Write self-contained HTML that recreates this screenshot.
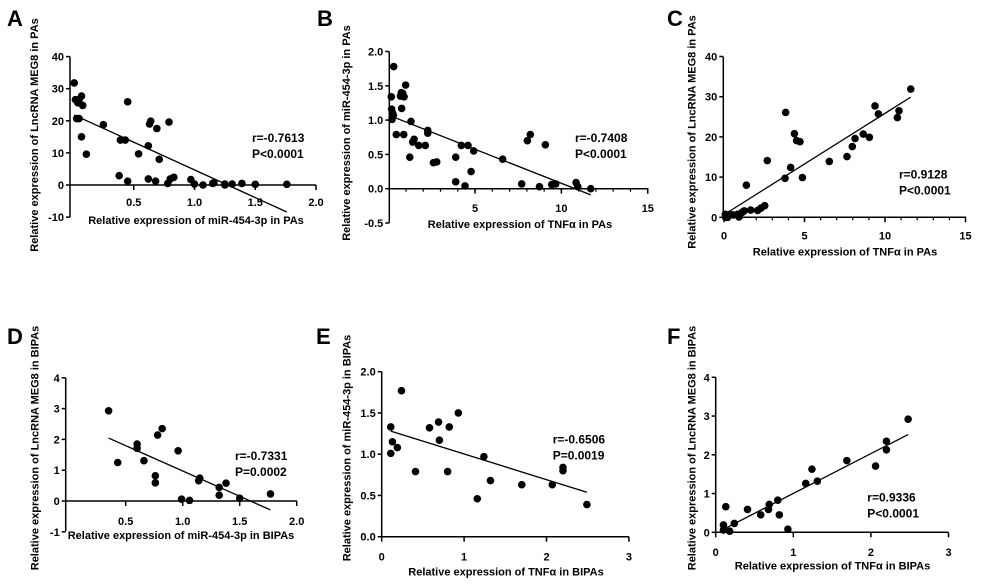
<!DOCTYPE html>
<html><head><meta charset="utf-8">
<style>
html,body{margin:0;padding:0;background:#fff;}
svg{display:block;font-family:"Liberation Sans",Arial,sans-serif;font-weight:bold;}
</style></head>
<body>
<svg id="fig" width="981" height="587" viewBox="0 0 981 587"></svg>
<script>
// Panel A: miR-454-3p (x) vs LncRNA MEG8 (y) in PAs
const aX=[0.01,0.02,0.05,0.07,0.04,0.08,0.03,0.05,0.07,0.11,0.25,0.39,0.43,0.45,0.38,0.45,0.54,0.62,0.63,0.64,0.69,0.71,0.79,0.62,0.68,0.78,0.8,0.83,0.97,1.0,1.07,1.15,1.16,1.25,1.25,1.31,1.39,1.5,1.76];
const aY=[31.8,26.6,26.6,27.7,25.6,24.8,20.7,20.7,15,9.6,18.8,14,14,25.9,2.9,1.2,9.7,12.2,19,19.9,17.6,8,19.6,1.9,1.2,0.5,1.9,2.4,1.7,0.3,0,0.5,0.7,0.3,0,0.3,0.5,0.2,0.2];
// Panel B: TNFa (x) vs miR-454-3p (y) in PAs
const bX=[0.29,0.15,0.17,0.23,0.19,0.27,0.44,0.68,0.73,0.81,0.89,0.75,0.98,0.87,1.29,1.22,1.39,1.47,1.74,2.12,2.26,2.26,2.59,2.78,3.88,3.88,4.21,4.42,4.59,4.77,4.92,6.6,7.7,8.03,8.2,8.73,9.07,9.44,9.67,10.85,10.95,11.7];
const bY=[1.78,1.34,1.16,1.10,1.01,1.07,0.79,1.35,1.40,1.39,1.34,1.17,1.51,0.79,0.98,0.46,0.68,0.72,0.63,0.63,0.85,0.81,0.38,0.39,0.46,0.1,0.63,0.04,0.63,0.25,0.55,0.43,0.07,0.7,0.79,0.03,0.64,0.06,0.07,0.09,0.03,0.0];
// Panel C: TNFa (x) vs LncRNA MEG8 (y) in PAs
const cX=[11.6,9.38,9.59,10.87,10.77,8.65,9.03,8.14,7.97,7.64,6.54,3.83,4.37,4.51,4.72,4.14,3.79,4.87,2.69,1.39,2.53,2.3,2.09,1.66,1.26,1.12,0.85,0.93,0.58,0.37,0.12,0.1,0.23,0.08];
const cY=[31.9,27.7,25.7,26.5,24.8,20.7,19.9,19.6,17.6,15.1,13.9,26.1,20.8,19.1,18.8,12.4,9.7,9.9,14.1,8,2.9,2.3,1.7,1.8,1.6,1.2,0.75,0.1,0.6,0.75,0.33,0,0,0.75];
// Panel D: miR-454-3p (x) vs LncRNA MEG8 (y) in BIPAs
const dX=[0.35,0.43,0.6,0.6,0.66,0.76,0.76,0.78,0.82,0.96,0.99,1.06,1.14,1.15,1.32,1.32,1.38,1.5,1.77];
const dY=[2.93,1.25,1.85,1.71,1.31,0.82,0.59,2.14,2.35,1.63,0.06,0.02,0.66,0.74,0.44,0.19,0.58,0.09,0.23];
// Panel E: TNFa (x) vs miR-454-3p (y) in BIPAs
const eX=[0.24,0.11,0.13,0.19,0.11,0.41,0.58,0.69,0.70,0.82,0.93,0.8,1.16,1.24,1.32,1.7,2.07,2.2,2.2,2.49];
const eY=[1.77,1.33,1.15,1.08,1.01,0.79,1.32,1.39,1.17,1.33,1.5,0.79,0.46,0.97,0.68,0.63,0.63,0.84,0.8,0.39];
// Panel F: TNFa (x) vs LncRNA MEG8 (y) in BIPAs
const fX=[2.48,2.2,2.2,2.06,1.69,1.24,1.31,1.16,0.8,0.69,0.68,0.58,0.82,0.93,0.41,0.24,0.13,0.1,0.1,0.18];
const fY=[2.92,2.35,2.13,1.71,1.85,1.63,1.32,1.26,0.83,0.72,0.59,0.45,0.45,0.08,0.59,0.23,0.66,0.19,0.06,0.03];
// tick labels
const aXTicks=["0.5","1.0","1.5","2.0"];
const aYTicks=["-10","0","10","20","30","40"];
const bXTicks=["5","10","15"];
const bYTicks=["-0.5","0.0","0.5","1.0","1.5","2.0"];
const cXTicks=["0","5","10","15"];
const cYTicks=["0","10","20","30","40"];
const dXTicks=["0.5","1.0","1.5","2.0"];
const dYTicks=["-1","0","1","2","3","4"];
const eXTicks=["0","1","2","3"];
const eYTicks=["0.0","0.5","1.0","1.5","2.0"];
const fXTicks=["0","1","2","3"];
const fYTicks=["0","1","2","3","4"];
const statsR=["r=-0.7613","r=-0.7408","r=0.9128","r=-0.7331","r=-0.6506","r=0.9336"];
const statsP=["P<0.0001","P<0.0001","P<0.0001","P=0.0002","P=0.0019","P<0.0001"];

const NS="http://www.w3.org/2000/svg";
const svg=document.getElementById('fig');
function mk(tag,attrs,parent,txt){const e=document.createElementNS(NS,tag);for(const k in attrs)e.setAttribute(k,attrs[k]);if(txt!==undefined)e.textContent=txt;(parent||svg).appendChild(e);return e;}

const panels=[
 {id:'a',letter:'A',lx:7,ly:26,xs:aX,ys:aY,xt:aXTicks,yt:aYTicks,ax:70,x0:73,xk:121.5,xEnd:316,y0:185,yk:3.21,yTop:56.7,yBot:217,xMinor:null,xlabY:202,title:'Relative expression of miR-454-3p in PAs',tx:196,ty:224,ytitle:'Relative expression of LncRNA MEG8 in PAs',ytx:38,yty:135,sx:252,sy:142},
 {id:'b',letter:'B',lx:317,ly:26,xs:bX,ys:bY,xt:bXTicks,yt:bYTicks,ax:389.3,x0:388.7,xk:17.27,xEnd:648.3,y0:188.7,yk:68.6,yTop:51.7,yBot:222.7,xMinor:1,xlabY:208,title:'Relative expression of TNFα in PAs',tx:520,ty:228,ytitle:'Relative expression of miR-454-3p in PAs',ytx:350,yty:133,sx:575,sy:142},
 {id:'c',letter:'C',lx:667,ly:26,xs:cX,ys:cY,xt:cXTicks,yt:cYTicks,ax:723.3,x0:724,xk:16.1,xEnd:966,y0:217.3,yk:4.02,yTop:56.7,yBot:217.3,xMinor:1,xlabY:235.5,title:'Relative expression of TNFα in PAs',tx:845,ty:255.5,ytitle:'Relative expression of LncRNA MEG8 in PAs',ytx:695.5,yty:132,sx:899,sy:178.5},
 {id:'d',letter:'D',lx:7,ly:344,xs:dX,ys:dY,xt:dXTicks,yt:dYTicks,ax:65.7,x0:68.7,xk:114,xEnd:297,y0:501,yk:30.8,yTop:377.7,yBot:531,xMinor:null,xlabY:521,title:'Relative expression of miR-454-3p in BIPAs',tx:181,ty:539,ytitle:'Relative expression of LncRNA MEG8 in BIPAs',ytx:38.5,yty:448,sx:235,sy:460},
 {id:'e',letter:'E',lx:316,ly:344,xs:eX,ys:eY,xt:eXTicks,yt:eYTicks,ax:381.7,x0:381.7,xk:82.4,xEnd:629,y0:536.7,yk:82.5,yTop:371.7,yBot:536.7,xMinor:null,xlabY:556.5,title:'Relative expression of TNFα in BIPAs',tx:506,ty:575.5,ytitle:'Relative expression of miR-454-3p in BIPAs',ytx:350.5,yty:448,sx:552.7,sy:443.3},
 {id:'f',letter:'F',lx:667,ly:344,xs:fX,ys:fY,xt:fXTicks,yt:fYTicks,ax:715.7,x0:715.7,xk:77.6,xEnd:948.3,y0:532.3,yk:38.75,yTop:377.3,yBot:532.3,xMinor:null,xlabY:552,title:'Relative expression of TNFα in BIPAs',tx:832.5,ty:569.5,ytitle:'Relative expression of LncRNA MEG8 in BIPAs',ytx:695.5,yty:448,sx:867.3,sy:501.3}
];

panels.forEach((p,i)=>{
  const g=mk('g',{});
  
  
  const X=v=>p.x0+v*p.xk, Y=v=>p.y0-v*p.yk;
  const L=mk('text',{x:p.lx,y:p.ly,'font-size':22,fill:'#000'},g,p.letter);
  
  
  // axes
  const ya=mk('line',{x1:p.ax,y1:p.yTop,x2:p.ax,y2:p.yBot,stroke:'#000','stroke-width':1.5},g);
  
  
  const xa=mk('line',{x1:p.ax,y1:p.y0,x2:p.xEnd,y2:p.y0,stroke:'#000','stroke-width':1.5},g);
  
  
  // y ticks
  p.yt.forEach(t=>{const v=parseFloat(t),yy=Y(v);
    mk('line',{x1:p.ax-4,y1:yy,x2:p.ax,y2:yy,stroke:'#000','stroke-width':1.5},g);
    const tl=mk('text',{x:p.ax-6,y:yy+4,'font-size':11,'text-anchor':'end'},g,t);
    
    
  });
  // x minor ticks
  const lastX=parseFloat(p.xt[p.xt.length-1]);
  if(p.xMinor){for(let v=p.xMinor;v<lastX;v+=p.xMinor){mk('line',{x1:X(v),y1:p.y0,x2:X(v),y2:p.y0+3,stroke:'#000','stroke-width':1.2},g);}}
  p.xt.forEach(t=>{const v=parseFloat(t),xx=X(v);
    mk('line',{x1:xx,y1:p.y0,x2:xx,y2:p.y0+5,stroke:'#000','stroke-width':1.5},g);
    const tl=mk('text',{x:xx,y:p.xlabY+4,'font-size':11,'text-anchor':'middle'},g,t);
    
    
  });
  // titles
  const xt=mk('text',{x:p.tx,y:p.ty,'font-size':11,'text-anchor':'middle'},g,p.title);
  
  
  const yt=mk('text',{x:0,y:0,'font-size':11,'text-anchor':'middle',transform:`translate(${p.ytx},${p.yty}) rotate(-90)`},g,p.ytitle);
  
  
  // regression line
  const n=p.xs.length;let mx=0,my=0;for(let k=0;k<n;k++){mx+=p.xs[k];my+=p.ys[k];}mx/=n;my/=n;
  let sxy=0,sxx=0;for(let k=0;k<n;k++){sxy+=(p.xs[k]-mx)*(p.ys[k]-my);sxx+=(p.xs[k]-mx)**2;}
  const b=sxy/sxx,a=my-b*mx;const xmin=Math.min(...p.xs),xmax=Math.max(...p.xs);
  const rl=mk('line',{x1:X(xmin),y1:Y(a+b*xmin),x2:X(xmax),y2:Y(a+b*xmax),stroke:'#000','stroke-width':1.3},g);
  
  
  // points
  for(let k=0;k<n;k++){
    const c=mk('circle',{cx:X(p.xs[k]),cy:Y(p.ys[k]),r:3.8,fill:'#000'},g);
    
    
  }
  // stats
  const r1=mk('text',{x:p.sx,y:p.sy,'font-size':12},g,statsR[i]);
  
  
  const r2=mk('text',{x:p.sx,y:p.sy+16,'font-size':12},g,statsP[i]);
  
  
});
</script>
</body></html>
